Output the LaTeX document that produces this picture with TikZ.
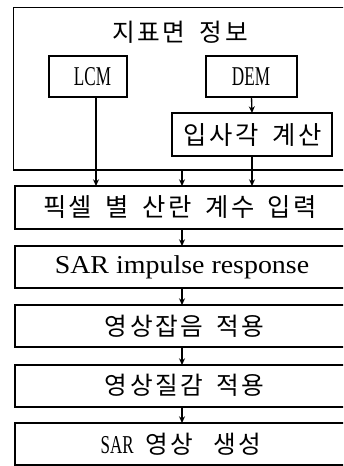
\documentclass[tikz,border=0pt]{standalone}
\usepackage{fontspec}
\usetikzlibrary{arrows.meta}
\newfontfamily\kr{Noto Sans CJK KR}
\newfontfamily\lat{Liberation Serif}
\newXeTeXintercharclass\krclass
\def\setcls#1{\ifx#1\relax\else\XeTeXcharclass`#1=\krclass\expandafter\setcls\fi}
\setcls 지표면정보입사각계산픽셀별산란계수입력영상잡음적용질감생성\relax
\XeTeXinterchartoks\krclass\krclass={\hskip 0pt plus 1fil\relax}
\XeTeXinterchartokenstate=1
% #1 font size, #2 total width, #3 extra word space, #4 text
\newcommand{\kt}[4]{{\kr\fontsize{#1}{#1}\selectfont\spaceskip=#3 plus 1fil\relax\hbox to #2{#4}}}
\newcommand{\lt}[3]{{\lat\fontsize{#1}{#1}\selectfont\scalebox{#2}[1]{#3}}}
\tikzset{
  x=0.75pt, y=-0.75pt,
  box/.style={draw, line width=1pt, inner sep=0pt, outer sep=0pt, rectangle},
  wide/.style={box, minimum width=334*0.75pt, minimum height=42*0.75pt},
  lbl/.style={inner sep=0pt, outer sep=0pt, anchor=center},
  arr/.style={line width=1pt, -{Stealth[length=5pt,width=4.5pt]}},
}
\begin{document}
\begin{tikzpicture}
\useasboundingbox (0,0) rectangle (343,466);
\clip (0,0) rectangle (343,466);
% upper group
\node[box, minimum width=337*0.75pt, minimum height=162.5*0.75pt] (outer) at (182,88.75) {};
\node[lbl] (title) at (180,32) {\kt{18.5pt}{102pt}{9pt}{지표면 정보}};
\node[box, minimum width=78*0.75pt, minimum height=41*0.75pt] (lcm) at (88,76.5) {};
\node[lbl] (lcmt) at (92.5,77) {\lt{20.4pt}{0.63}{LCM}};
\node[box, minimum width=91*0.75pt, minimum height=41*0.75pt] (dem) at (251.5,76.5) {};
\node[lbl] (demt) at (251,77) {\lt{20.4pt}{0.63}{DEM}};
\node[box, minimum width=160*0.75pt, minimum height=43*0.75pt] (ipsa) at (252,134.5) {};
\node[lbl] (ipsat) at (252.5,135) {\kt{19pt}{104pt}{7.5pt}{입사각 계산}};
% flow boxes
\node[wide, minimum height=43*0.75pt] (b1) at (182,207.5) {};
\node[lbl] (b1t) at (180,207) {\kt{19pt}{205.5pt}{8pt}{픽셀 별 산란 계수 입력}};
\node[wide] (b2) at (182,267) {\lt{19.3pt}{1.085}{SAR impulse response}};
\node[wide] (b3) at (182,326) {};
\node[lbl] (b3t) at (184.5,326) {\kt{18.5pt}{119.5pt}{8pt}{영상잡음 적용}};
\node[wide] (b4) at (182,386) {};
\node[lbl] (b4t) at (184.5,385) {\kt{18.5pt}{119.5pt}{8pt}{영상질감 적용}};
\node[wide] (b5) at (182,444) {};
\node[lbl] (b5t) at (181,444) {\lt{19.3pt}{0.66}{SAR}\hspace{8.6pt}\kt{18.5pt}{87pt}{12.5pt}{영상 생성}};
% connectors
\draw[arr] ([xshift=6pt]lcm.south) -- ([xshift=6pt]lcm.south |- b1.north);
\draw[arr] (outer.south) -- (b1.north);
\draw[arr] (dem.south) -- (ipsa.north);
\draw[arr] (ipsa.south) -- (ipsa.south |- b1.north);
\draw[arr] (b1.south) -- (b2.north);
\draw[arr] (b2.south) -- (b3.north);
\draw[arr] (b3.south) -- (b4.north);
\draw[arr] (b4.south) -- (b5.north);
\end{tikzpicture}
\end{document}
